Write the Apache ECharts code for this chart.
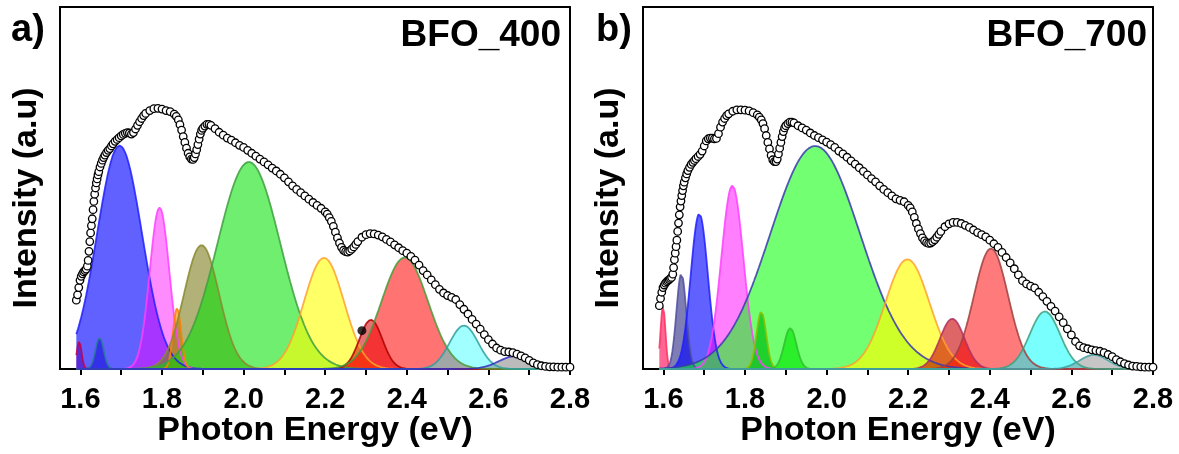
<!DOCTYPE html>
<html><head><meta charset="utf-8">
<script src="https://cdn.jsdelivr.net/npm/echarts@6/dist/echarts.min.js"></script>
<style>html,body{margin:0;padding:0;background:#fff}#c{width:1179px;height:454px}</style>
</head><body><div id="c"></div>
<script>
// ---------- DATA ----------
const tickLabels = [1.6, 1.8, 2.0, 2.2, 2.4, 2.6, 2.8];
const tickMarks = [1.6, 1.7, 1.8, 1.9, 2.0, 2.1, 2.2, 2.3, 2.4, 2.5, 2.6, 2.7, 2.8];
const panelTitles = ['BFO_400', 'BFO_700'];
const panelLetters = ['a)', 'b)'];

// measured spectrum, panel a (eV, intensity a.u.)
const spectrumA = [
[1.590,19.0],[1.593,20.5],[1.596,22.5],[1.599,24.5],[1.602,25.6],[1.605,26.3],[1.608,26.8],[1.611,27.2],[1.614,27.6],[1.617,28.4],
[1.619,30.0],[1.621,32.5],[1.623,35.2],[1.625,37.6],[1.627,39.6],[1.629,41.5],[1.631,44.0],[1.633,46.3],[1.635,48.3],[1.637,50.0],
[1.639,51.4],[1.641,52.5],[1.643,53.6],[1.645,54.5],[1.648,55.8],[1.651,56.8],[1.654,57.7],[1.657,58.4],[1.660,59.1],[1.664,59.8],
[1.668,60.4],[1.672,60.9],[1.676,61.6],[1.680,62.2],[1.685,62.9],[1.690,63.4],[1.695,63.9],[1.700,64.4],[1.705,64.8],[1.710,65.1],
[1.715,65.3],[1.720,65.2],[1.725,64.9],[1.730,65.3],[1.735,66.3],[1.740,67.3],[1.745,68.3],[1.750,69.2],[1.755,70.0],[1.760,70.6],
[1.770,71.4],[1.780,71.9],[1.790,72.0],[1.800,71.8],[1.810,71.4],[1.820,71.1],[1.830,70.4],[1.835,69.8],[1.840,68.8],[1.844,67.5],
[1.848,66.0],[1.852,64.2],[1.856,62.6],[1.860,61.0],[1.864,59.6],[1.868,58.6],[1.872,58.0],[1.876,57.9],[1.879,58.4],[1.882,59.4],
[1.885,60.6],[1.888,62.0],[1.891,63.5],[1.894,64.9],[1.897,65.9],[1.900,66.5],[1.905,67.1],[1.910,67.6],[1.915,67.6],[1.920,67.3],
[1.930,66.4],[1.940,65.4],[1.950,64.6],[1.960,63.8],[1.970,63.2],[1.980,62.5],[1.990,61.8],[2.000,61.2],[2.010,60.4],[2.020,59.6],
[2.030,58.8],[2.040,58.0],[2.050,57.2],[2.060,56.4],[2.070,55.5],[2.080,54.7],[2.090,53.8],[2.100,52.8],[2.110,51.7],[2.120,50.6],
[2.130,49.6],[2.140,48.7],[2.150,47.8],[2.160,46.9],[2.170,46.0],[2.180,45.2],[2.190,44.4],[2.200,43.4],[2.205,42.8],[2.210,41.8],
[2.215,40.8],[2.220,39.4],[2.225,37.8],[2.230,36.2],[2.235,34.8],[2.240,33.6],[2.245,32.8],[2.250,32.4],[2.255,32.3],[2.260,32.6],
[2.265,33.1],[2.270,33.7],[2.275,34.4],[2.280,35.2],[2.290,36.4],[2.300,37.1],[2.310,37.4],[2.320,37.3],[2.330,37.0],[2.340,36.5],
[2.350,35.8],[2.360,35.1],[2.370,34.3],[2.380,33.5],[2.390,32.7],[2.400,32.0],[2.410,31.1],[2.420,30.1],[2.430,28.7],[2.440,27.2],
[2.450,26.0],[2.460,24.6],[2.470,23.3],[2.480,22.0],[2.490,21.0],[2.500,20.3],[2.510,19.8],[2.520,19.2],[2.530,17.8],[2.540,16.5],
[2.550,15.2],[2.560,13.7],[2.570,12.4],[2.580,11.0],[2.590,9.5],[2.600,8.1],[2.610,6.9],[2.620,5.8],[2.630,5.2],[2.640,4.8],
[2.650,4.7],[2.660,4.5],[2.670,4.1],[2.680,3.6],[2.690,3.1],[2.700,2.4],[2.710,1.7],[2.720,1.2],[2.730,0.9],[2.740,0.7],
[2.750,0.6],[2.760,0.6],[2.770,0.5],[2.780,0.5],[2.790,0.5],[2.800,0.5]
];

// measured spectrum, panel b
const spectrumB = [
[1.590,17.5],[1.593,19.5],[1.596,21.2],[1.599,22.5],[1.602,23.2],[1.605,23.7],[1.608,24.1],[1.611,24.4],[1.614,24.7],[1.617,25.0],
[1.620,25.3],[1.623,26.2],[1.625,28.0],[1.627,30.2],[1.629,32.0],[1.631,33.8],[1.633,35.6],[1.635,38.0],[1.637,40.3],[1.639,42.6],
[1.641,44.8],[1.643,46.4],[1.645,47.9],[1.647,49.3],[1.649,50.6],[1.651,51.6],[1.654,52.8],[1.657,53.9],[1.660,54.8],[1.664,55.7],
[1.668,56.5],[1.672,57.1],[1.676,57.6],[1.680,58.1],[1.685,58.7],[1.690,59.3],[1.695,60.2],[1.700,61.6],[1.705,63.0],[1.710,63.6],
[1.715,63.8],[1.720,63.8],[1.725,63.6],[1.730,63.7],[1.735,65.0],[1.740,66.8],[1.745,68.2],[1.750,69.2],[1.755,70.0],[1.760,70.5],
[1.770,71.2],[1.780,71.6],[1.790,71.6],[1.800,71.5],[1.810,71.3],[1.820,70.8],[1.830,70.2],[1.835,69.6],[1.840,68.8],[1.844,67.8],
[1.848,66.4],[1.852,64.5],[1.856,62.6],[1.860,60.8],[1.864,59.0],[1.868,57.8],[1.872,57.3],[1.876,57.3],[1.879,58.0],[1.882,59.4],
[1.885,61.0],[1.888,62.6],[1.891,64.2],[1.894,65.6],[1.897,66.6],[1.900,67.2],[1.905,67.8],[1.910,68.2],[1.915,68.2],[1.920,68.0],
[1.930,67.2],[1.940,66.6],[1.950,66.0],[1.960,65.2],[1.970,64.5],[1.980,63.9],[1.990,63.3],[2.000,62.7],[2.010,62.0],[2.020,61.2],
[2.030,60.2],[2.040,59.4],[2.050,58.5],[2.060,57.5],[2.070,56.6],[2.080,55.6],[2.090,54.6],[2.100,53.6],[2.110,52.6],[2.120,51.7],
[2.130,50.6],[2.140,49.6],[2.150,48.7],[2.160,47.8],[2.170,47.0],[2.180,46.6],[2.190,46.2],[2.200,45.2],[2.205,44.5],[2.210,43.4],
[2.215,41.9],[2.220,40.2],[2.225,38.7],[2.230,37.4],[2.235,36.2],[2.240,35.4],[2.245,34.9],[2.250,34.7],[2.255,34.8],[2.260,35.2],
[2.265,35.7],[2.270,36.4],[2.275,37.2],[2.280,38.0],[2.290,39.3],[2.300,40.1],[2.310,40.5],[2.320,40.5],[2.330,40.2],[2.340,39.7],
[2.350,39.1],[2.360,38.4],[2.370,37.7],[2.380,37.1],[2.390,36.5],[2.400,35.6],[2.410,34.6],[2.420,33.6],[2.430,32.2],[2.440,30.8],
[2.450,29.3],[2.460,27.7],[2.470,26.0],[2.480,24.4],[2.490,23.5],[2.500,22.9],[2.510,22.4],[2.520,21.2],[2.530,20.0],[2.540,18.7],
[2.550,17.3],[2.560,16.0],[2.570,14.4],[2.580,12.8],[2.590,11.1],[2.600,9.4],[2.610,7.6],[2.620,6.4],[2.630,5.9],[2.640,5.6],
[2.650,5.3],[2.660,5.1],[2.670,4.9],[2.680,4.5],[2.690,4.0],[2.700,3.4],[2.710,2.6],[2.720,2.0],[2.730,1.5],[2.740,1.1],
[2.750,0.8],[2.760,0.7],[2.770,0.6],[2.780,0.5],[2.790,0.5],[2.800,0.5]
];

// marked point in panel a
const markA = [[2.29, 10.6]];

// Gaussian fit components (centre eV, height a.u., sigma eV)
const centersA = [1.597, 1.647, 1.696, 1.794, 1.837, 1.897, 2.013, 2.197, 2.312, 2.395, 2.540, 2.665];
const heightsA = [7.6,   8.7,   61.7,  44.6,  16.8,  34.2,  57.2,  30.7,  13.6,  30.8,  12.0,  3.5];
const sigmasA  = [0.006, 0.010, 0.055, 0.024, 0.010, 0.043, 0.077, 0.049, 0.028, 0.057, 0.035, 0.040];

const centersB = [1.599, 1.644, 1.688, 1.769, 1.840, 1.911, 1.972, 2.198, 2.308, 2.403, 2.535, 2.655];
const heightsB = [17.4,  26.4,  42.9,  50.7,  15.9,  11.3,  61.6,  30.3,  13.9,  33.3,  15.9,  3.9];
const sigmasB  = [0.006, 0.012, 0.021, 0.027, 0.012, 0.015, 0.110, 0.054, 0.030, 0.042, 0.037, 0.035];

// ---------- STYLES ----------
const fillsA = ['rgba(200,0,70,0.55)','rgba(60,40,150,0.6)','rgba(0,0,255,0.62)','rgba(255,0,255,0.45)','rgba(255,140,0,0.65)','rgba(125,125,30,0.6)',
  'rgba(0,225,0,0.56)','rgba(255,255,0,0.6)','rgba(210,0,0,0.55)','rgba(255,0,0,0.55)','rgba(0,255,255,0.37)','rgba(120,120,120,0.5)'];
const linesA = ['#c80046','#2a7a9a','#2020ff','#ff40ff','#ff8000','#8a8a30','#40a040','#ffa030','#b00000','#4a9a3a','#30a0a0','#3030c0'];
const fillsB = ['rgba(255,0,80,0.6)','rgba(40,40,130,0.6)','rgba(0,0,255,0.62)','rgba(255,0,255,0.5)','rgba(0,110,40,0.8)','rgba(0,200,0,0.7)',
  'rgba(20,255,20,0.6)','rgba(255,255,0,0.65)','rgba(200,0,0,0.6)','rgba(255,0,0,0.52)','rgba(0,255,255,0.52)','rgba(128,128,128,0.45)'];
const linesB = ['#ff3060','#5050a0','#2020ff','#ff40ff','#90c000','#30c030','#3a3ab0','#ffa030','#b03060','#a04040','#40a080','#40a0a0'];

const FONT = "'Liberation Sans', Arial, sans-serif";
const X0 = 1.55, X1 = 2.8, FIT_START = 1.59;

function gaussCurve(c, h, s) {
  const pts = [];
  for (let i = 0; i <= 605; i++) {
    const x = FIT_START + i * 0.002;
    pts.push([+x.toFixed(4), h * Math.exp(-((x - c) * (x - c)) / (2 * s * s))]);
  }
  return pts;
}

const grids = [
  {left: 60, top: 7, width: 510, height: 362},
  {left: 643, top: 7, width: 510, height: 362}
].map(g => Object.assign(g, {show: true, borderColor: '#000', borderWidth: 2, backgroundColor: 'transparent'}));

const xAxes = [0, 1].map(i => ({
  type: 'value', gridIndex: i, min: X0, max: X1,
  axisLine: {show: true, onZero: false, lineStyle: {color: '#000', width: 2}},
  axisTick: {show: true, inside: false, length: 6, customValues: tickMarks, lineStyle: {color: '#000', width: 2}},
  axisLabel: {show: true, customValues: tickLabels, margin: 16, formatter: v => v.toFixed(1),
    color: '#000', fontFamily: FONT, fontWeight: 'bold', fontSize: 29, lineHeight: 29},
  splitLine: {show: false}
}));
const yAxes = [0, 1].map(i => ({
  type: 'value', gridIndex: i, min: 0, max: 100,
  axisLine: {show: false}, axisTick: {show: false}, axisLabel: {show: false}, splitLine: {show: false}
}));

const series = [];
function addPanel(p, centers, heights, sigmas, fills, lines, spectrum) {
  centers.forEach((c, i) => {
    series.push({
      type: 'line', xAxisIndex: p, yAxisIndex: p, data: gaussCurve(c, heights[i], sigmas[i]),
      showSymbol: false, symbol: 'none', smooth: false, silent: true, z: 2,
      lineStyle: {color: lines[i], width: 1.8, opacity: 0.85},
      areaStyle: {color: fills[i], opacity: 1}
    });
  });
  series.push({
    type: 'scatter', xAxisIndex: p, yAxisIndex: p, data: spectrum, symbol: 'circle', symbolSize: 7.5, z: 5,
    itemStyle: {color: '#fff', borderColor: '#000', borderWidth: 1.3, opacity: 1}
  });
}
addPanel(0, centersA, heightsA, sigmasA, fillsA, linesA, spectrumA);
addPanel(1, centersB, heightsB, sigmasB, fillsB, linesB, spectrumB);
series.push({type: 'scatter', xAxisIndex: 0, yAxisIndex: 0, data: markA, symbol: 'circle', symbolSize: 9, z: 6,
  itemStyle: {color: '#000'}});

function txt(text, x, y, size, align, rot) {
  return {type: 'text', x: x, y: y, rotation: rot || 0, z: 100,
    style: {text: text, x: 0, y: 0, fill: '#000', font: 'bold ' + size + 'px ' + FONT,
      textAlign: align, textVerticalAlign: 'middle'}};
}
const graphic = [
  txt(panelLetters[0], 11, 31, 38, 'left'),
  txt(panelLetters[1], 596, 31, 38, 'left'),
  txt(panelTitles[0], 561, 36, 37, 'right'),
  txt(panelTitles[1], 1147, 36, 37, 'right'),
  txt('Photon Energy (eV)', 315, 431, 34, 'center'),
  txt('Photon Energy (eV)', 898, 431, 34, 'center'),
  txt('Intensity (a.u)', 27, 198, 34, 'center', Math.PI / 2),
  txt('Intensity (a.u)', 609, 198, 34, 'center', Math.PI / 2)
];

const chart = echarts.init(document.getElementById('c'), null, {renderer: 'canvas'});
chart.setOption({animation: false, grid: grids, xAxis: xAxes, yAxis: yAxes, series: series, graphic: graphic});
</script></body></html>
